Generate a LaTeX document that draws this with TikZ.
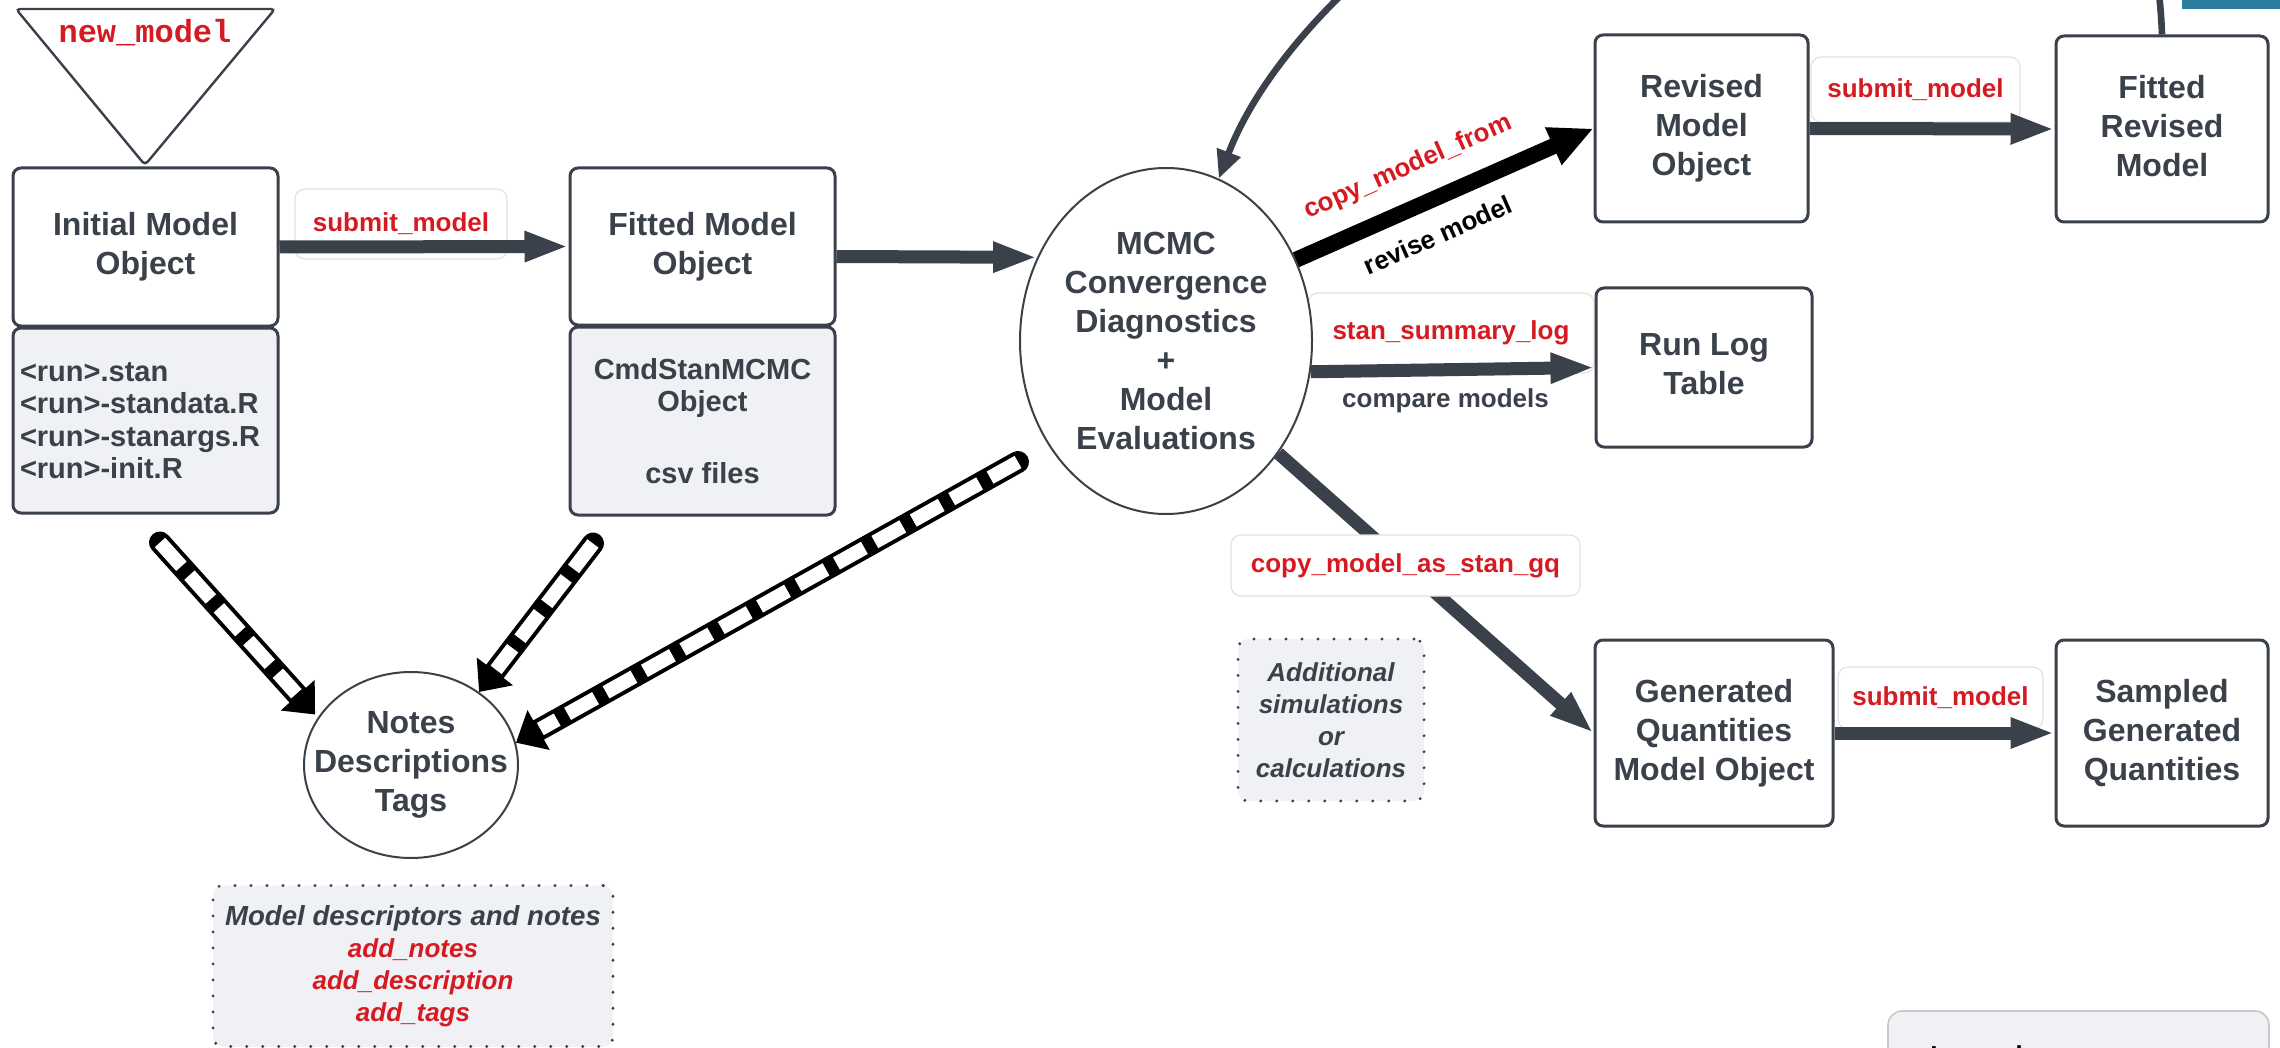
\documentclass[tikz,border=0pt]{standalone}
\usepackage{fontspec}
\setmainfont{Liberation Sans}
\newfontfamily\codefont{Liberation Mono}
\usetikzlibrary{arrows.meta,shapes.geometric,calc}

\definecolor{ink}{RGB}{58,65,74}
\definecolor{redtxt}{RGB}{214,26,33}
\definecolor{paper}{RGB}{240,241,244}
\definecolor{faint}{RGB}{226,226,226}
\definecolor{legendline}{RGB}{200,200,200}
\definecolor{tealbar}{RGB}{42,127,158}

\newcommand\ttlfont{\bfseries\fontsize{16pt}{19.5pt}\selectfont}
\newcommand\filesfont{\bfseries\fontsize{14.5pt}{16.2pt}\selectfont}
\newcommand\lblfont{\bfseries\fontsize{13pt}{15.6pt}\selectfont}
\newcommand\noteit{\bfseries\itshape\fontsize{13pt}{16pt}\selectfont}

\begin{document}
\begin{tikzpicture}[x=0.5pt,y=-0.5pt,
  box/.style={draw=ink, line width=1.5pt, rounded corners=4pt, fill=white,
    text=ink, font=\ttlfont, align=center, inner sep=0pt},
  filebox/.style={box, fill=paper, font=\filesfont},
  bubble/.style={ellipse, draw=ink, line width=1pt, fill=white, inner sep=0pt},
  bubbletext/.style={text=ink, font=\ttlfont, align=center, inner sep=0pt},
  lblbox/.style={draw=faint, fill=white, rounded corners=5pt, line width=0.6pt,
    text=redtxt, font=\lblfont, inner sep=0pt},
  lbl/.style={font=\lblfont, inner sep=0pt},
  notebox/.style={draw=ink, line width=1.6pt, line cap=round, dash pattern=on 0pt off 8pt,
    fill=paper, rounded corners=5pt, text=ink, font=\noteit, align=center, inner sep=0pt},
  flow/.style={draw=ink, line width=6.5pt, -{Triangle[length=22pt,width=14pt]}},
  revflow/.style={draw=black, line width=8pt, -{Triangle[length=22pt,width=19pt]}},
  feedback/.style={draw=ink, line width=3.3pt, -{Triangle[length=14pt,width=12pt]}},
  tubeout/.style={draw=black, line width=11pt, line cap=round, -{Triangle[length=13pt,width=22pt]}},
  tubein/.style={draw=white, line width=7pt, dash pattern=on 16pt off 6pt}
]
\useasboundingbox (0,0) rectangle (2280,1048);
\fill[white] (0,0) rectangle (2280,1048);
\clip (0,0) rectangle (2280,1048);

% label plates that sit behind their connectors
\node[lblbox, minimum width=106pt, minimum height=35pt] (sub1) at (401,224) {submit\_model};
\node[lblbox, minimum width=104.5pt, minimum height=32.5pt] (sub2) at (1915.5,89.5) {submit\_model};
\node[lblbox, minimum width=102.5pt, minimum height=31pt] (sub3) at (1940.5,698) {submit\_model};
\node[lblbox, minimum width=143pt, minimum height=40pt] (sumlog) at (1451,333) {stan\_summary\_log};

% entry point
\draw[ink, line width=1.2pt, rounded corners=2pt, fill=white] (16,9) -- (275,9) -- (145,165) -- cycle;
\node[font=\codefont\bfseries\fontsize{16pt}{18pt}\selectfont, text=redtxt, inner sep=0pt] (newmodel) at (145,33) {new\_model};

% model objects
\node[box, minimum width=132.5pt, minimum height=79pt] (init) at (145.5,247) {Initial Model\\Object};
\node[filebox, minimum width=132.5pt, minimum height=92.5pt, text width=125.5pt,
      inner xsep=3.5pt, align=left] (initfiles) at (145.5,420.5)
      {<run>.stan\\<run>-standata.R\\<run>-stanargs.R\\<run>-init.R};
\node[box, minimum width=132.5pt, minimum height=78.5pt] (fitted) at (702.5,246.5) {Fitted Model\\Object};
\node[filebox, minimum width=132.5pt, minimum height=94pt] (fittedfiles) at (702.5,421)
      {CmdStanMCMC\\Object\\[19.4pt]csv files};

\node[bubble, minimum width=146pt, minimum height=173pt] (mcmc) at (1166,341) {};
\node[bubbletext] (mcmctext) at (mcmc.center)
      {MCMC\\Convergence\\Diagnostics\\+\\Model\\Evaluations};

\node[box, minimum width=106.5pt, minimum height=93.5pt] (revised) at (1701.5,128.5) {Revised\\Model\\Object};
\node[box, minimum width=106pt, minimum height=93pt] (fittedrev) at (2162,129) {Fitted\\Revised\\Model\vphantom{j}};
\node[box, minimum width=108pt, minimum height=79.5pt] (runlog) at (1704,367.5) {Run Log\\Table\vphantom{j}};
\node[box, minimum width=119pt, minimum height=93pt] (generated) at (1714,733) {Generated\\Quantities\\Model Object};
\node[box, minimum width=106pt, minimum height=93pt] (sampled) at (2162,733) {Sampled\\Generated\\Quantities};

\node[bubble, minimum width=107pt, minimum height=93pt] (notes) at (411,765) {};
\node[bubbletext] (notestext) at (notes.center) {Notes\\Descriptions\\Tags};

% connectors
\draw[flow] (init.east) -- (fitted.west);
\draw[flow] ([yshift=-5pt]fitted.east) -- (mcmc.147);
\draw[revflow] (mcmc.32) -- (revised.west)
  node[pos=0.43, sloped, above=9.5pt, lbl, text=redtxt] (cmf) {copy\_model\_from}
  node[pos=0.43, sloped, below=8.5pt, lbl, text=black] (rvm) {revise model};
\draw[flow] (mcmc.-12) -- (runlog.west)
  node[pos=0.475, below=6pt, lbl, text=ink] (cmp) {compare models};
\draw[flow] (mcmc.-45) -- (generated.west);
\node[lblbox, minimum width=174.5pt, minimum height=30.5pt] (gq) at (1405.5,565.5) {copy\_model\_as\_stan\_gq};
\draw[flow] (revised.east) -- (fittedrev.west);
\draw[flow] (generated.east) -- (sampled.west);
\draw[feedback] (fittedrev.north) .. controls (2140,-540) and (1345,-150) .. (mcmc.72);

% annotation links into the notes bubble
\coordinate (t1) at ([shift={(14.5,28)}]initfiles.south);
\coordinate (t2) at ([shift={(-109.5,27)}]fittedfiles.south);
\coordinate (t3) at ([shift={(-148,121)}]mcmc.center);
\draw[tubeout, shorten >=2pt] (t1) -- (notes.153);
\draw[tubein, shorten >=16pt] (t1) -- (notes.153);
\draw[tubeout] (t2) -- (notes.47);
\draw[tubein, shorten >=14pt] (t2) -- (notes.47);
\draw[tubeout] (t3) -- (notes.12);
\draw[tubein, shorten >=14pt] (t3) -- (notes.12);

% side notes
\node[notebox, minimum width=93pt, minimum height=81pt] (extra) at (1331,720)
      {Additional\\simulations\\or\\calculations};
\node[notebox, minimum width=200pt, minimum height=80.5pt] (descr) at (413,966)
      {{\fontsize{13.8pt}{16pt}\selectfont Model descriptors and notes}\\{\color{redtxt}add\_notes}\\{\color{redtxt}add\_description}\\{\color{redtxt}add\_tags}};

% legend panel at the lower edge
\node[draw=legendline, fill=paper, rounded corners=7pt, line width=0.8pt,
      minimum width=190.5pt, minimum height=94pt, inner sep=0pt] (legend) at (2078.5,1105) {};
\node[anchor=base west, font=\bfseries\fontsize{13pt}{15pt}\selectfont, text=black, inner sep=0pt]
      (legendtitle) at (1930,1064) {Legend};

% corner tab
\fill[tealbar] (2182,0) rectangle (2280,9);
\end{tikzpicture}
\end{document}
